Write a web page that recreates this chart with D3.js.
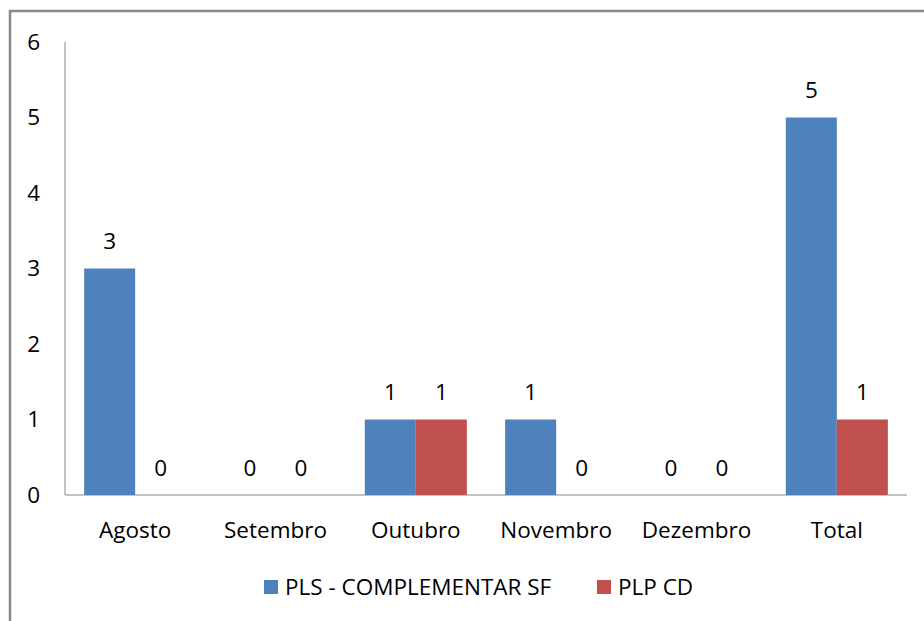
<!DOCTYPE html>
<html><head><meta charset="utf-8">
<script src="https://cdn.jsdelivr.net/npm/d3@7"></script>
<style>
html,body{margin:0;padding:0;background:#fff;}
svg{display:block;font-family:"Open Sans",Lato,sans-serif;}
</style></head>
<body>
<svg id="chart" width="924" height="621"></svg>
<script>
const categories = ["Agosto","Setembro","Outubro","Novembro","Dezembro","Total"];
const seriesNames = ["PLS - COMPLEMENTAR SF","PLP CD"];
const plsValues = [3,0,1,1,0,5];
const plpValues = [0,0,1,0,0,1];
const yTicks = [0,1,2,3,4,5,6];
const colors = ["#4F81BD","#C0504D"];

const svg = d3.select("#chart");
const m = {left:65, right:907, top:42, bottom:495};
const FS = 22.5;

// outer border
svg.append("rect").attr("x",10).attr("y",11).attr("width",940).attr("height",640)
  .attr("fill","none").attr("stroke","#888").attr("stroke-width",2.5);

const x = d3.scaleBand().domain(categories).range([m.left,m.right]).paddingInner(0).paddingOuter(0);
const x1 = d3.scaleBand().domain([0,1]).range([0,x.bandwidth()]).paddingOuter(0.375).paddingInner(0);
const y = d3.scaleLinear().domain([0,6]).range([m.bottom,m.top]);

// axes lines
svg.append("line").attr("x1",m.left).attr("x2",m.left).attr("y1",y(6)).attr("y2",y(0)).attr("stroke","#888").attr("stroke-width",1);
svg.append("line").attr("x1",m.left).attr("x2",m.right).attr("y1",y(0)).attr("y2",y(0)).attr("stroke","#888").attr("stroke-width",1.2);

// y tick labels
svg.selectAll(".ytick").data(yTicks).join("text")
  .attr("x",40).attr("y",d=>y(d)).attr("dy","0.35em").attr("text-anchor","end")
  .attr("font-size",FS).attr("fill","#000").text(d=>d);

// x labels
svg.selectAll(".xlab").data(categories).join("text")
  .attr("x",d=>x(d)+x.bandwidth()/2).attr("y",538).attr("text-anchor","middle")
  .attr("font-size",FS).attr("fill","#000").text(d=>d);

const seriesData = [plsValues, plpValues];
seriesData.forEach((vals,si)=>{
  const g = svg.append("g");
  g.selectAll("rect").data(vals).join("rect")
    .attr("x",(d,i)=>x(categories[i])+x1(si))
    .attr("width",x1.bandwidth())
    .attr("y",d=>y(d)).attr("height",d=>y(0)-y(d))
    .attr("fill",colors[si]);
  g.selectAll("text").data(vals).join("text")
    .attr("x",(d,i)=>x(categories[i])+x1(si)+x1.bandwidth()/2)
    .attr("y",d=>y(d)-27).attr("dy","0.35em").attr("text-anchor","middle")
    .attr("font-size",FS).attr("fill","#000").text(d=>d);
});

// legend
const legX = [264,597];
seriesNames.forEach((n,i)=>{
  svg.append("rect").attr("x",legX[i]).attr("y",580).attr("width",14).attr("height",14).attr("fill",colors[i]);
  svg.append("text").attr("x",legX[i]+21).attr("y",587).attr("dy","0.35em")
    .attr("font-size",FS).attr("fill","#000").text(n);
});
</script>
</body></html>
